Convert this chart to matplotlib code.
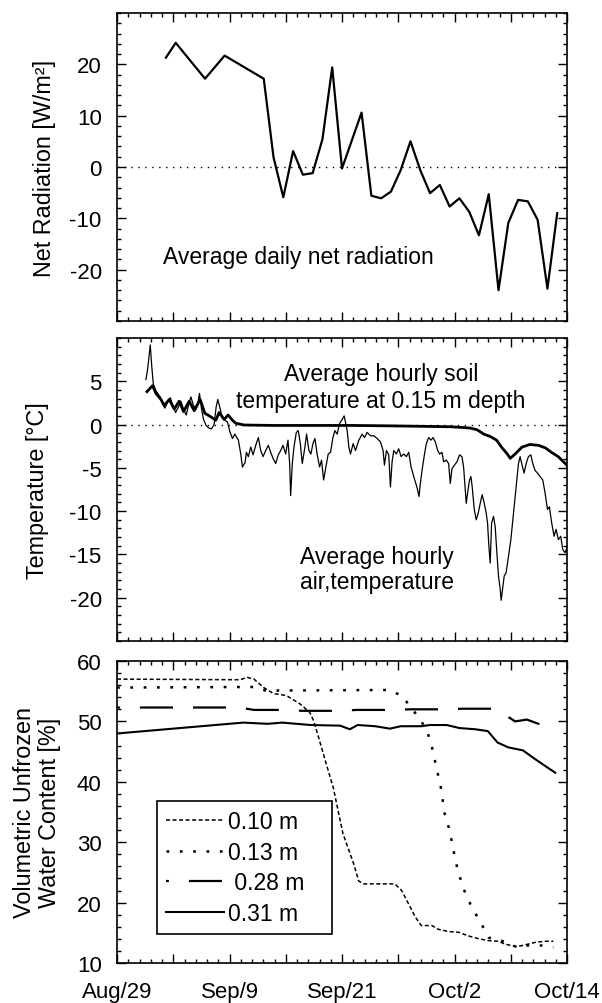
import matplotlib
matplotlib.use('Agg')
import matplotlib.pyplot as plt
from matplotlib.ticker import FixedLocator, MultipleLocator

plt.rcParams['font.family'] = ['Liberation Sans', 'DejaVu Sans']
plt.rcParams['lines.scale_dashes'] = False
plt.rcParams['axes.unicode_minus'] = False

# ---------------- data ----------------
x_tick_pos = [0, 5.75, 11.5, 17.25, 23, 28.75, 34.5, 40.25, 46]
x_tick_labels = ['Aug/29', '', 'Sep/9', '', 'Sep/21', '', 'Oct/2', '', 'Oct/14']

rad_day = [5, 6, 9, 11, 15, 16, 17, 18, 19, 20, 21, 22, 23, 25, 26, 27, 28, 29,
           30, 31, 32, 33, 34, 35, 36, 37, 38, 39, 40, 41, 42, 43, 44, 45]
rad_val = [21.3, 24.2, 17.2, 21.7, 17.2, 1.9, -5.9, 3.1, -1.5, -1.2, 5.4, 19.4,
           -0.3, 10.6, -5.6, -6.1, -4.8, -0.6, 5.0, -0.6, -5.1, -3.5, -7.7, -6.1,
           -8.7, -13.3, -5.3, -24.0, -10.9, -6.4, -6.7, -10.3, -23.7, -9.0]

soil_day = [3.06, 3.64, 3.98, 4.49, 4.83, 5.34, 5.85, 6.36, 6.80, 7.38, 7.89, 8.50,
            8.98, 9.59, 10.10, 10.44, 10.95, 11.36, 11.80, 12.14, 13.0, 16.0, 20.0,
            24.0, 28.0, 31.0, 34.1, 35.5, 36.1, 36.8, 37.5, 38.2, 38.8, 39.3, 39.9,
            40.2, 40.7, 41.4, 42.2, 43.1, 43.8, 44.4, 45.1, 46.0]
soil_temp = [3.8, 4.5, 3.6, 2.9, 2.2, 2.9, 1.8, 2.7, 1.5, 2.7, 1.6, 2.9,
             1.3, 0.9, 0.5, 1.4, 0.6, 1.1, 0.5, 0.15, -0.05, -0.1, -0.1,
             -0.1, -0.15, -0.2, -0.25, -0.35, -0.4, -0.6, -1.1, -1.4, -1.8, -2.6, -3.4,
             -3.9, -3.4, -2.6, -2.3, -2.4, -2.7, -3.2, -3.7, -4.7]

air_day = [2.96, 3.13, 3.40, 3.54, 3.71, 3.98, 4.22, 4.42, 4.66, 4.90, 5.17, 5.44,
           5.71, 5.99, 6.26, 6.53, 6.80, 7.07, 7.35, 7.55, 7.82, 8.09, 8.30, 8.43,
           8.64, 8.84, 9.11, 9.39, 9.66, 9.93, 10.13, 10.30, 10.51, 10.75, 11.02,
           11.29, 11.56, 11.80, 12.04, 12.41, 12.65, 12.82, 13.09, 13.23, 13.43,
           13.67, 13.91, 14.18, 14.45, 14.69, 14.93, 15.20, 15.47, 15.71, 15.95,
           16.22, 16.49, 16.73, 16.97, 17.24, 17.48, 17.65, 17.75, 17.92, 18.09,
           18.33, 18.53, 18.74, 18.94, 19.21, 19.38, 19.62, 19.82, 20.03, 20.23,
           20.47, 20.71, 20.91, 21.12, 21.32, 21.59, 21.83, 22.07, 22.27, 22.51,
           22.75, 23.02, 23.22, 23.53, 23.70, 23.87, 24.14, 24.38, 24.72, 25.06,
           25.30, 25.57, 25.91, 26.25, 26.59, 26.93, 27.20, 27.34, 27.54, 27.78,
           27.95, 28.12, 28.29, 28.56, 28.80, 29.04, 29.31, 29.58, 29.82, 30.06,
           30.33, 30.60, 30.74, 30.87, 31.01, 31.18, 31.42, 31.62, 31.86, 32.10,
           32.30, 32.54, 32.78, 32.98, 33.22, 33.39, 33.66, 33.90, 34.07, 34.24,
           34.48, 34.75, 35.02, 35.26, 35.43, 35.60, 35.70, 35.84, 36.04, 36.18,
           36.31, 36.52, 36.72, 36.93, 37.13, 37.33, 37.54, 37.74, 37.88, 38.01,
           38.15, 38.29, 38.49, 38.66, 38.83, 39.00, 39.17, 39.27, 39.41, 39.58,
           39.78, 40.02, 40.26, 40.53, 40.80, 41.04, 41.21, 41.41, 41.62, 41.82,
           42.06, 42.30, 42.50, 42.74, 42.98, 43.25, 43.52, 43.76, 44.00, 44.20,
           44.44, 44.68, 44.88, 45.12, 45.36, 45.56, 45.80, 46.0]
air_temp = [5.2, 6.4, 9.2, 6.9, 4.7, 3.9, 3.5, 3.2, 2.4, 1.9, 2.6, 3.1,
            2.2, 1.4, 2.0, 2.7, 1.8, 1.1, 2.4, 3.2, 2.2, 1.8, 2.7, 3.6,
            1.8, 0.6, -0.1, -0.4, -0.5, 0.0, 2.0, 2.9, 2.0, 0.8, 0.5,
            0.3, -0.9, -1.6, -1.1, -1.8, -3.4, -4.9, -4.4, -3.2, -3.7,
            -2.6, -3.5, -2.4, -1.5, -3.0, -3.7, -3.0, -2.4, -3.2, -3.9,
            -4.5, -3.5, -3.0, -2.4, -3.4, -1.8, -4.5, -8.2, -4.5, -2.6,
            -0.9, -0.7, -2.2, -4.5, -2.6, -1.1, -3.0, -3.4, -2.2, -1.6,
            -3.5, -4.9, -4.1, -6.4, -5.1, -3.4, -3.2, -1.5, -0.7, -1.1,
            0.1, 0.6, 1.0, -0.7, -2.6, -3.4, -2.2, -3.0, -1.8, -1.1,
            -1.5, -0.9, -1.3, -1.3, -1.6, -2.0, -3.0, -4.7, -3.0, -3.5,
            -7.2, -4.3, -3.0, -3.4, -2.8, -3.7, -3.4, -3.7, -3.2, -4.9,
            -6.0, -7.0, -7.6, -8.3, -6.8, -5.3, -3.5, -2.2, -1.5, -1.8,
            -1.5, -2.0, -3.0, -3.4, -3.2, -4.3, -4.1, -4.5, -6.8, -5.1,
            -4.7, -4.3, -3.5, -3.7, -4.9, -7.6, -9.1, -7.9, -6.4, -6.0,
            -7.2, -9.8, -11.0, -10.2, -9.1, -8.1, -9.1, -10.2, -11.4, -14.0,
            -16.0, -11.4, -10.6, -11.8, -14.8, -17.5, -19.0, -20.3, -19.0, -17.5,
            -17.1, -15.2, -13.3, -10.2, -7.2, -4.5, -3.7, -4.7, -5.6, -4.5,
            -3.7, -3.5, -4.5, -5.3, -5.6, -6.0, -6.4, -7.9, -9.8, -9.5,
            -11.4, -12.9, -12.1, -13.3, -12.9, -14.4, -14.8, -14.2]

wc10_day = [0, 12.6, 13.3, 14.0, 15.0, 16.0, 17.3, 18.7, 19.7, 20.1, 20.6, 21.4,
            22.1, 23.1, 24.2, 24.7, 25.2, 28.4, 29.1, 29.8, 30.5, 31.1, 32.2, 32.8,
            33.9, 34.9, 35.9, 37.0, 38.0, 39.0, 39.7, 40.9, 41.7, 42.7, 43.7, 44.6]
wc10_val = [57.0, 56.9, 57.3, 57.0, 55.6, 54.6, 54.3, 52.9, 51.5, 50.1, 47.4, 42.9,
            39.1, 31.4, 26.4, 23.6, 23.1, 23.1, 22.0, 19.8, 17.6, 16.2, 16.2, 15.6,
            15.2, 15.1, 14.5, 14.0, 13.7, 13.6, 13.1, 12.7, 13.0, 13.4, 13.6, 13.6]

wc13_day = [0, 14.0, 15.2, 27.7, 29.1, 31.1, 31.8, 32.2, 32.5, 32.8, 33.1, 33.5,
            33.9, 34.2, 34.5, 34.8, 35.2, 35.7, 36.4, 37.2, 38.0, 39.3, 40.9, 42.0,
            43.4, 44.6]
wc13_val = [55.6, 55.7, 55.1, 55.2, 54.3, 50.1, 47.9, 45.7, 43.5, 41.3, 39.1, 34.7,
            32.5, 30.3, 27.8, 25.6, 23.4, 21.1, 18.9, 16.6, 14.2, 13.7, 12.6, 12.9,
            12.9, 12.6]

wc28_day = [0, 12.5, 14.0, 17.0, 19.0, 23.0, 24.5, 28.0, 30.0, 33.5, 35.4, 38.7,
            40.7, 41.9, 44.1]
wc28_val = [52.3, 52.3, 51.9, 51.9, 51.75, 51.75, 51.9, 51.9, 52.0, 52.0, 52.1, 52.1,
            50.0, 50.3, 49.0]

wc31_day = [0, 12.9, 15.4, 16.9, 19.8, 22.8, 23.8, 24.6, 26.4, 27.9, 29.0, 31.1,
            32.0, 33.7, 35.0, 36.6, 37.9, 38.9, 40.0, 41.5, 42.7, 43.7, 44.8]
wc31_val = [48.0, 49.8, 49.6, 49.8, 49.4, 49.3, 48.7, 49.4, 49.2, 48.8, 49.2, 49.2,
            49.4, 49.4, 48.9, 48.7, 48.4, 46.5, 45.7, 45.2, 43.8, 42.7, 41.5]

legend_labels = ['0.10 m', '0.13 m', ' 0.28 m', '0.31 m']

# ---------------- styles ----------------
ls10 = (0, (2.9, 1.8))
ls13 = (0, (2.0, 7.6))
ls28 = (21.7, (23.8, 14.4))
zero_ls = (0, (1.0, 4.0))

FS = 16.5      # annotation / legend
LFS = 16.8     # axis labels
TFS = 16       # tick labels

fig = plt.figure(figsize=(6.02, 10.04), dpi=100)
L, W = 117 / 602, 450 / 602
ax1 = fig.add_axes([L, 1 - 322 / 1004, W, 308 / 1004])
ax2 = fig.add_axes([L, 1 - 642 / 1004, W, 303 / 1004])
ax3 = fig.add_axes([L, 1 - 964 / 1004, W, 302 / 1004])


def style(ax, ylim, ymajor, yminor, show_x):
    ax.set_xlim(0, 46)
    ax.set_ylim(*ylim)
    ax.xaxis.set_major_locator(FixedLocator(x_tick_pos))
    ax.xaxis.set_minor_locator(MultipleLocator(46 / 40))
    ax.yaxis.set_major_locator(ymajor)
    ax.yaxis.set_minor_locator(MultipleLocator(yminor))
    ax.tick_params(which='both', direction='in', top=True, right=True,
                   width=1.0, labelsize=TFS)
    ax.tick_params(which='major', length=6.5)
    ax.tick_params(which='minor', length=3.2)
    ax.tick_params(axis='y', pad=11)
    ax.tick_params(axis='x', pad=13)
    if show_x:
        ax.set_xticklabels(x_tick_labels)
    else:
        ax.tick_params(labelbottom=False)
    for s in ax.spines.values():
        s.set_linewidth(1.2)


# top panel
style(ax1, (-30, 30), FixedLocator([-20, -10, 0, 10, 20]), 2, False)
ax1.axhline(0, color='k', lw=1.0, ls=zero_ls)
ax1.plot(rad_day, rad_val, color='k', lw=1.6)
ax1.text(0.102, 0.208, 'Average daily net radiation', transform=ax1.transAxes,
         fontsize=FS, ha='left', va='center')
ax1.set_ylabel('Net Radiation [W/m²]', fontsize=LFS)
ax1.yaxis.set_label_coords(-0.135, 0.5)

# middle panel
style(ax2, (-25, 10), FixedLocator([-20, -15, -10, -5, 0, 5]), 1, False)
ax2.axhline(0, color='k', lw=1.0, ls=zero_ls)
ax2.plot(air_day, air_temp, color='k', lw=0.9)
ax2.plot(soil_day, soil_temp, color='k', lw=2.0)
ax2.text(0.587, 0.838, 'Average hourly soil\ntemperature at 0.15 m depth',
         transform=ax2.transAxes, fontsize=FS, ha='center', va='center',
         linespacing=1.2)
ax2.text(0.578, 0.238, 'Average hourly\nair,temperature',
         transform=ax2.transAxes, fontsize=FS, ha='center', va='center',
         linespacing=1.15)
ax2.set_ylabel('Temperature [°C]', fontsize=LFS)
ax2.yaxis.set_label_coords(-0.15, 0.5)

# bottom panel
style(ax3, (10, 60), MultipleLocator(10), 2, True)
l10, = ax3.plot(wc10_day, wc10_val, color='k', lw=1.1, ls=ls10)
l13, = ax3.plot(wc13_day, wc13_val, color='k', lw=1.8, ls=ls13)
l28, = ax3.plot(wc28_day, wc28_val, color='k', lw=1.6, ls=ls28)
l31, = ax3.plot(wc31_day, wc31_val, color='k', lw=1.5)
ax3.set_ylabel('Volumetric Unfrozen\nWater Content [%]', fontsize=LFS,
               linespacing=1.1)
ax3.yaxis.set_label_coords(-0.125, 0.5)

leg = ax3.legend([l10, l13, l28, l31], legend_labels, loc='upper left',
                 bbox_to_anchor=(0.089, 0.096, 0.389, 0.44), mode='expand',
                 borderaxespad=0, fontsize=FS, handlelength=2.5,
                 handletextpad=0.2, labelspacing=0.33, borderpad=0.4,
                 fancybox=False, framealpha=1, edgecolor='k')
leg.get_frame().set_linewidth(1.2)

fig.savefig('out.png', dpi=100)
